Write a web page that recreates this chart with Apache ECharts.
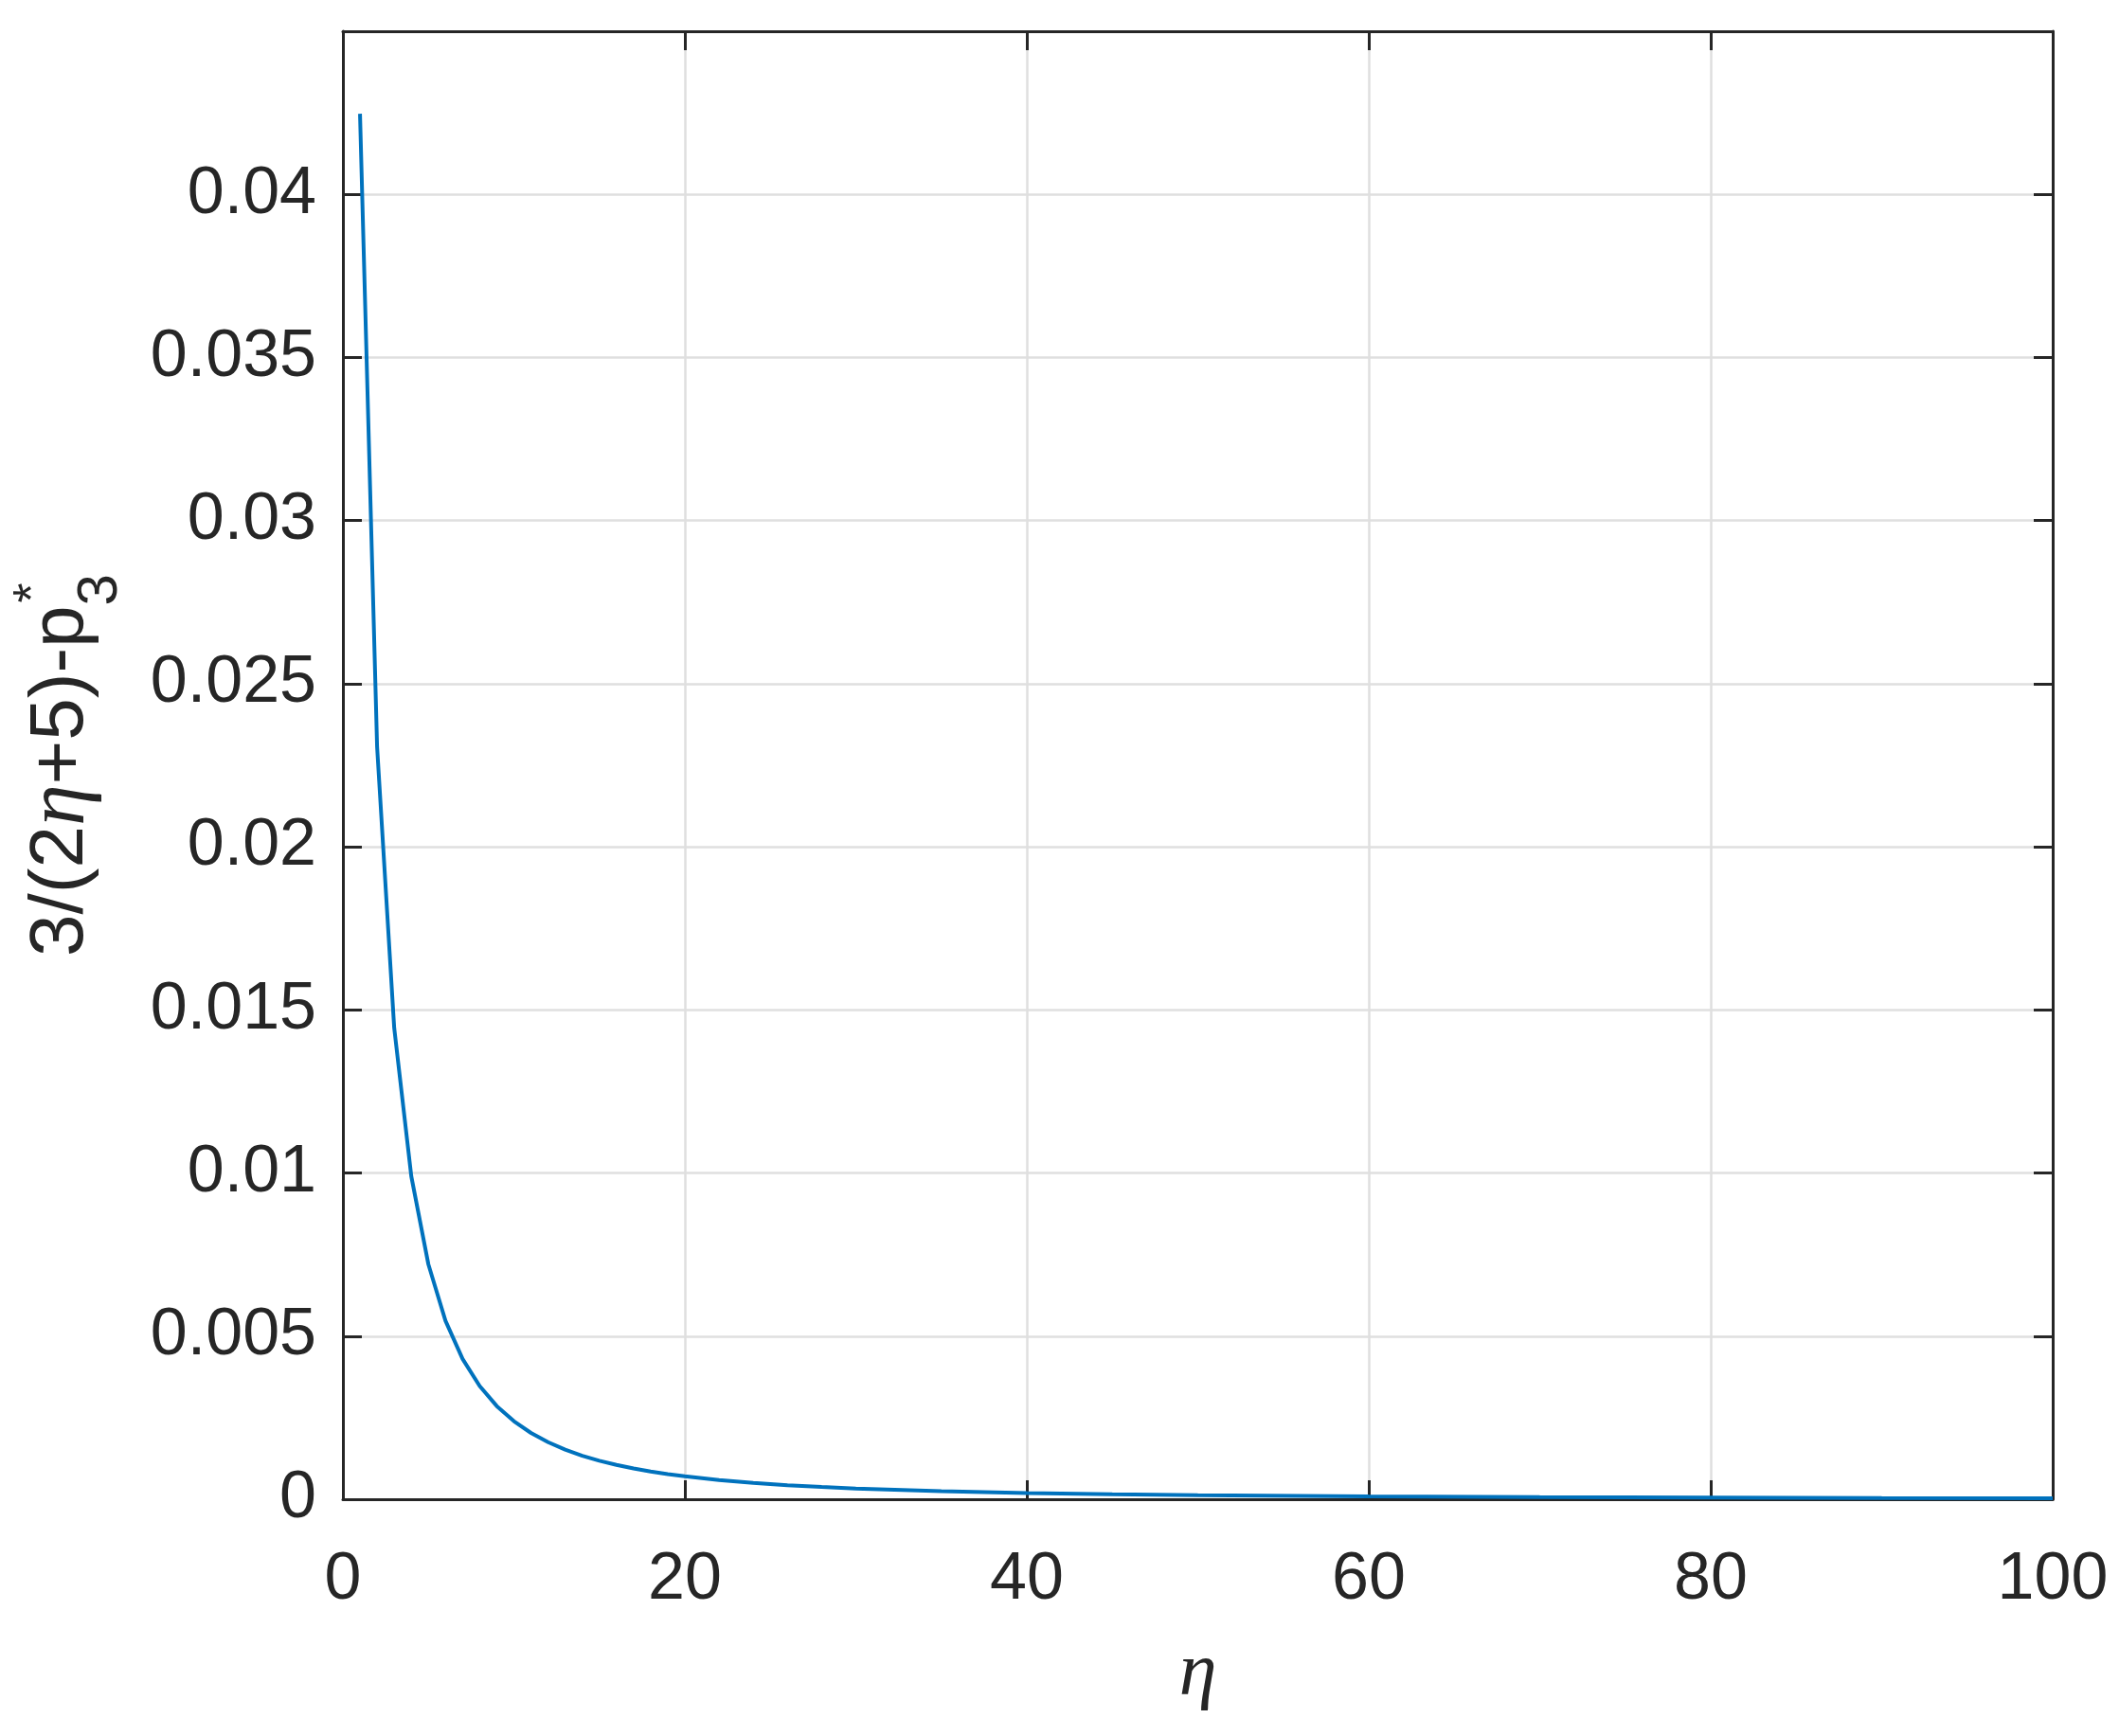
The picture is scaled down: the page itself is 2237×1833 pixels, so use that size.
<!DOCTYPE html>
<html>
<head>
<meta charset="utf-8">
<script src="https://cdn.jsdelivr.net/npm/echarts@6/dist/echarts.min.js"></script>
<style>
html,body{margin:0;padding:0;background:#fff;}
#chart{width:2237px;height:1833px;}
</style>
</head>
<body>
<div id="chart"></div>
<script>
// eta values (x) and 3/(2eta+5)-p3* values (y)
var etaValues = [1,2,3,4,5,6,7,8,9,10,11,12,13,14,15,16,17,18,19,20,22,24,26,28,30,35,40,45,50,60,70,80,90,100];
var gapValues = [0.04247,0.02306,0.01445,0.00990,0.00720,0.00547,0.00430,0.00347,0.002855,0.002392,
  0.002032,0.001749,0.001520,0.001334,0.001180,0.001051,0.000942,0.000849,0.000770,0.000701,
  0.000588,0.000500,0.000431,0.000375,0.000329,0.000246,0.000191,0.000152,0.000124,0.0000872,
  0.0000646,0.0000498,0.0000395,0.0000321];
var xTicks = [0,20,40,60,80,100];
var yTicks = [0,0.005,0.01,0.015,0.02,0.025,0.03,0.035,0.04];

var ink = '#262626';
var chart = echarts.init(document.getElementById('chart'));
var seriesData = etaValues.map(function(e,i){return [e, gapValues[i]];});

function axisBase(pos){
  return {
    type:'value', position:pos,
    axisLine:{show:true, onZero:false, lineStyle:{color:ink, width:3}},
    axisTick:{show:true, inside:true, length:20, lineStyle:{color:ink, width:3}},
    splitLine:{show:false},
    axisLabel:{show:false}
  };
}
var xb = axisBase('bottom');
xb.min = 0; xb.max = 100; xb.interval = 20;
xb.axisLabel = {show:true, fontSize:70, color:ink, fontFamily:'Liberation Sans', margin:51,
  formatter:function(v){return xTicks.indexOf(v) >= 0 ? String(v) : '';}};
xb.splitLine = {show:true, lineStyle:{color:'#dfdfdf', width:2.5}};
xb.name = 'η'; xb.nameLocation = 'middle'; xb.nameGap = 145;
xb.nameTextStyle = {fontSize:80, fontFamily:'Liberation Serif', fontStyle:'italic', color:ink};
var xt = axisBase('top'); xt.min = 0; xt.max = 100; xt.interval = 20;

var yl = axisBase('left');
yl.min = 0; yl.max = 0.045; yl.interval = 0.005;
yl.axisLabel = {show:true, fontSize:70, color:ink, fontFamily:'Liberation Sans', margin:28,
  formatter:function(v){
    var r = parseFloat(v.toFixed(4));
    return yTicks.indexOf(r) >= 0 ? String(r) : '';
  }};
yl.splitLine = {show:true, lineStyle:{color:'#dfdfdf', width:2.5}};
yl.name = '3/(2{i|η}+5)-p{sub|3}';
yl.nameLocation = 'middle'; yl.nameGap = 226;
yl.nameTextStyle = {fontSize:80, fontFamily:'Liberation Sans', color:ink,
  rich:{
    i:{fontSize:88, fontFamily:'Liberation Serif', fontStyle:'italic', color:ink},
    sub:{fontSize:60, fontFamily:'Liberation Sans', color:ink, padding:[82,0,0,0]}
  }};
var yr = axisBase('right'); yr.min = 0; yr.max = 0.045; yr.interval = 0.005;

chart.setOption({
  backgroundColor:'#ffffff',
  animation:false,
  grid:{left:362, right:70, top:33, bottom:250, outerBoundsMode:'none', containLabel:false},
  xAxis:[xb, xt],
  yAxis:[yl, yr],
  graphic:[{type:'text', x:36, y:626, rotation:Math.PI/2, z:10,
    style:{text:'*', fontSize:54, fontFamily:'Liberation Sans', fill:ink, align:'center', verticalAlign:'middle'}}],
  series:[{type:'line', xAxisIndex:0, yAxisIndex:0, data:seriesData, showSymbol:false,
    lineStyle:{color:'#0072BD', width:4}, itemStyle:{color:'#0072BD'}, z:3}]
});
</script>
</body>
</html>
